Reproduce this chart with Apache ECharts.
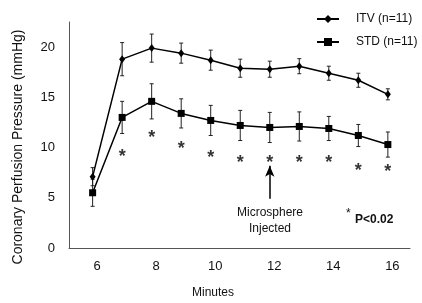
<!DOCTYPE html>
<html>
<head>
<meta charset="utf-8">
<script src="https://cdn.jsdelivr.net/npm/echarts@6/dist/echarts.min.js"></script>
<style>
  html, body { margin: 0; padding: 0; background: #fff; }
  #chart { width: 422px; height: 303px; }
</style>
</head>
<body>
<div id="chart"></div>
<script>
// values
const minutes = [6, 7, 8, 9, 10, 11, 12, 13, 14, 15, 16]
const itvMean = [7.1, 18.8, 19.9, 19.4, 18.7, 17.9, 17.8, 18.1, 17.4, 16.7, 15.3]
const itvErr = [0.9, 1.65, 1.4, 1.0, 1.0, 0.9, 0.8, 0.75, 0.7, 0.7, 0.55]
const stdMean = [5.5, 13.0, 14.6, 13.4, 12.7, 12.2, 12.0, 12.1, 11.9, 11.2, 10.3]
const stdErr = [1.35, 1.6, 1.75, 1.45, 1.5, 1.5, 1.5, 1.45, 1.2, 1.1, 1.25]
const starMinutes = [7, 8, 9, 10, 11, 12, 13, 14, 15, 16]
const starY = [9.5, 11.3, 10.3, 9.4, 8.9, 8.9, 8.9, 8.9, 8.1, 8.0]
const xTicks = [6, 8, 10, 12, 14, 16]
const yTicks = [0, 5, 10, 15, 20]
const arrowFrom = [12, 4.9]
const arrowTo = [12, 8.2]

const narrow = "'Liberation Sans Narrow', 'Liberation Sans', Arial, sans-serif"
const sans = "'Liberation Sans', Arial, sans-serif"

const pairs = (ys) => minutes.map((m, i) => [m, ys[i]])
const bars = (ys, es) => minutes.map((m, i) => [m, ys[i] - es[i], ys[i] + es[i]])

// vertical error bar with caps
const errorBar = (params, api) => {
  const x = api.value(0)
  const lo = api.coord([x, api.value(1)])
  const hi = api.coord([x, api.value(2)])
  const w = 2
  const st = { stroke: "#222", lineWidth: 1 }
  return {
    type: "group",
    children: [
      { type: "line", shape: { x1: lo[0], y1: lo[1], x2: hi[0], y2: hi[1] }, style: st },
      { type: "line", shape: { x1: lo[0] - w, y1: lo[1], x2: lo[0] + w, y2: lo[1] }, style: st },
      { type: "line", shape: { x1: hi[0] - w, y1: hi[1], x2: hi[0] + w, y2: hi[1] }, style: st },
    ],
  }
}

const chart = echarts.init(document.getElementById("chart"))
chart.setOption({
  animation: false,
  grid: { left: 69, right: 12, top: 22, bottom: 55 },
  legend: {
    orient: "vertical",
    left: 311,
    top: 8,
    itemWidth: 22,
    itemHeight: 10,
    itemGap: 11,
    textStyle: { fontFamily: narrow, fontSize: 12, color: "#111", padding: [0, 0, 0, 12] },
    data: ["ITV (n=11)", "STD (n=11)"],
  },
  xAxis: {
    type: "value",
    min: 5.2,
    max: 16.75,
    axisLine: { show: true, lineStyle: { color: "#555", width: 1 } },
    axisTick: { show: false },
    splitLine: { show: false },
    axisLabel: {
      customValues: xTicks,
      fontFamily: sans,
      fontSize: 13,
      color: "#111",
      margin: 12,
      padding: [0, 0, 0, 9],
    },
  },
  yAxis: {
    type: "value",
    min: 0,
    max: 22.5,
    axisLine: { show: true, lineStyle: { color: "#555", width: 1 } },
    axisTick: { show: false },
    splitLine: { show: false },
    axisLabel: {
      customValues: yTicks,
      fontFamily: sans,
      fontSize: 13,
      color: "#111",
      margin: 14,
    },
  },
  graphic: [
    {
      type: "text",
      x: 18,
      y: 147,
      rotation: Math.PI / 2,
      style: {
        text: "Coronary Perfusion Pressure (mmHg)",
        font: "14px " + sans,
        fill: "#111",
        align: "center",
        verticalAlign: "middle",
      },
    },
    {
      type: "text",
      x: 213,
      y: 293,
      style: { text: "Minutes", font: "12px " + narrow, fill: "#111", align: "center", verticalAlign: "middle" },
    },
    {
      type: "text",
      x: 270,
      y: 221,
      style: {
        text: "Microsphere\nInjected",
        font: "12px " + narrow,
        lineHeight: 16,
        fill: "#111",
        align: "center",
        verticalAlign: "middle",
      },
    },
    {
      type: "text",
      x: 346,
      y: 214,
      style: { text: "*", font: "12px " + sans, fill: "#111", align: "left", verticalAlign: "middle" },
    },
    {
      type: "text",
      x: 355,
      y: 220,
      style: { text: "P<0.02", font: "bold 12px " + narrow, fill: "#111", align: "left", verticalAlign: "middle" },
    },
  ],
  series: [
    {
      type: "custom",
      name: "itvErr",
      renderItem: errorBar,
      encode: { x: 0, y: [1, 2] },
      data: bars(itvMean, itvErr),
      z: 1,
    },
    {
      type: "custom",
      name: "stdErr",
      renderItem: errorBar,
      encode: { x: 0, y: [1, 2] },
      data: bars(stdMean, stdErr),
      z: 1,
    },
    {
      name: "ITV (n=11)",
      type: "line",
      data: pairs(itvMean),
      symbol: "diamond",
      symbolSize: [6, 8],
      itemStyle: { color: "#000" },
      lineStyle: { color: "#000", width: 1.5 },
      z: 3,
    },
    {
      name: "STD (n=11)",
      type: "line",
      data: pairs(stdMean),
      symbol: "rect",
      symbolSize: 7,
      itemStyle: { color: "#000" },
      lineStyle: { color: "#000", width: 1.5 },
      z: 3,
    },
    {
      name: "stars",
      type: "scatter",
      data: starMinutes.map((m, i) => [m, starY[i]]),
      symbolSize: 1,
      itemStyle: { color: "rgba(0,0,0,0)" },
      label: {
        show: true,
        position: "inside",
        formatter: "*",
        fontFamily: sans,
        fontWeight: "bold",
        fontSize: 18,
        color: "#000",
        offset: [0, 4],
      },
      silent: true,
      markLine: {
        silent: true,
        symbol: ["none", "arrow"],
        symbolSize: [7, 11],
        label: { show: false },
        lineStyle: { color: "#000", width: 1.5, type: "solid" },
        data: [[{ coord: arrowFrom }, { coord: arrowTo }]],
      },
    },
  ],
})
</script>
</body>
</html>
